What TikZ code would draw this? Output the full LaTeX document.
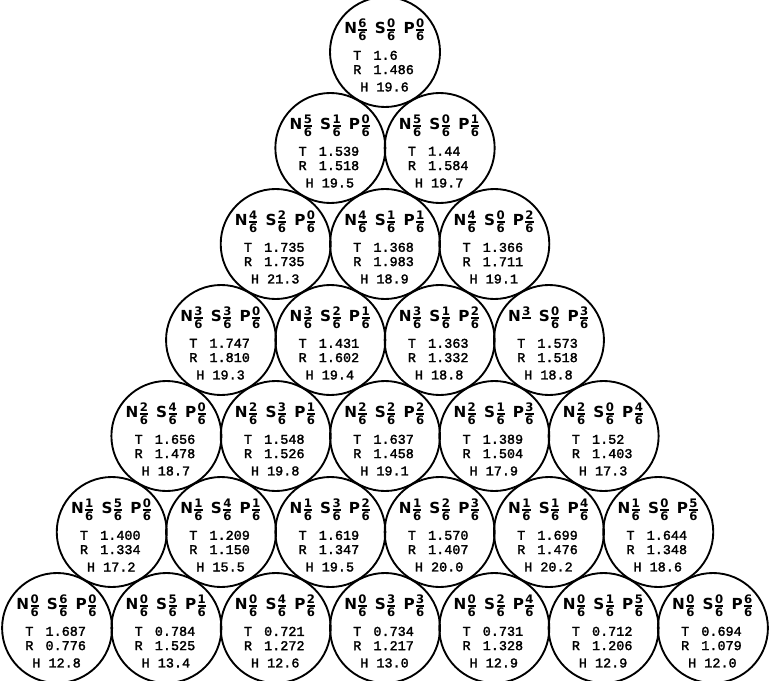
\documentclass[tikz,border=0pt]{standalone}
\usepackage{amsmath}
\usepackage{fontspec}
\newfontfamily\hdrfont{DejaVu Sans Bold}
\newfontfamily\valfont[FakeBold=2]{Liberation Mono}
\newcommand{\fr}[2]{$\genfrac{}{}{1.1pt}{}{\mbox{\fontsize{10}{10}\selectfont\hdrfont #1}}{\mbox{\fontsize{10}{10}\selectfont\hdrfont #2}}$}

\begin{document}
\begin{tikzpicture}[x=0.03cm, y=-0.03cm]

  \tikzset{cell/.style={circle, draw, line width=1.6pt, minimum size=3.3cm, inner sep=0pt},
           hdr/.style={font=\hdrfont\fontsize{13}{13}\selectfont, inner sep=0pt},
           vals/.style={font=\valfont\fontsize{11.5}{12.2}\selectfont, align=left,
                        inner sep=0pt, anchor=west}}

  \useasboundingbox (0,0) rectangle (769,680);
  \clip (0,0) rectangle (769,680);

  % row/column/T/R/H
  \foreach \r/\c/\tv/\rv/\hv in {0/0/1.6/1.486/19.6,
      1/0/1.539/1.518/19.5, 1/1/1.44/1.584/19.7,
      2/0/1.735/1.735/21.3, 2/1/1.368/1.983/18.9, 2/2/1.366/1.711/19.1,
      3/0/1.747/1.810/19.3, 3/1/1.431/1.602/19.4, 3/2/1.363/1.332/18.8,
      3/3/1.573/1.518/18.8,
      4/0/1.656/1.478/18.7, 4/1/1.548/1.526/19.8, 4/2/1.637/1.458/19.1,
      4/3/1.389/1.504/17.9, 4/4/1.52/1.403/17.3,
      5/0/1.400/1.334/17.2, 5/1/1.209/1.150/15.5, 5/2/1.619/1.347/19.5,
      5/3/1.570/1.407/20.0, 5/4/1.699/1.476/20.2, 5/5/1.644/1.348/18.6,
      6/0/1.687/0.776/12.8, 6/1/0.784/1.525/13.4, 6/2/0.721/1.272/12.6,
      6/3/0.734/1.217/13.0, 6/4/0.731/1.328/12.9, 6/5/0.712/1.206/12.9,
      6/6/0.694/1.079/12.0} {
    \pgfmathsetmacro{\x}{385+(\c-\r/2)*109.3}
    \pgfmathsetmacro{\y}{52+96*\r}
    \pgfmathtruncatemacro{\nN}{6-\r}
    \pgfmathtruncatemacro{\nS}{\r-\c}
    \ifnum\r\c=33 \def\dN{}\else\def\dN{6}\fi
    \node[cell] (n\r\c) at (\x,\y) {};
    \node[hdr] (h\r\c) at (\x,\y-22)
      {N\fr{\nN}{\dN}\hspace{0.45em}S\fr{\nS}{6}\hspace{0.45em}P\fr{\c}{6}};
    \node[vals] (v\r\c) at (\x-32,\y+10.5)
      {\makebox[1.5em][l]{T}\tv\\ \makebox[1.5em][l]{R}\rv};
    \node[vals] (w\r\c) at (\x-25,\y+35) {H \hv};
  }

\end{tikzpicture}
\end{document}
